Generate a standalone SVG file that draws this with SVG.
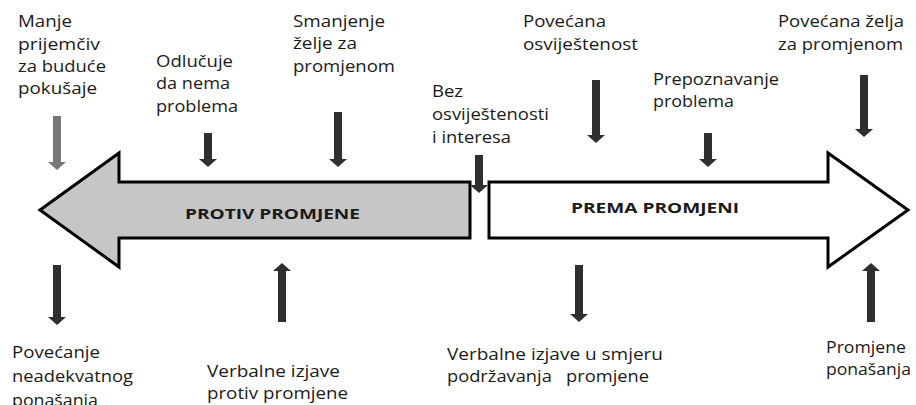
<svg xmlns="http://www.w3.org/2000/svg" width="916" height="405" viewBox="0 0 916 405">
<style>
.t{font-family:"Open Sans","Liberation Sans",sans-serif;font-size:15.5px;fill:#1a1a1a;}
.b{font-family:"Open Sans","Liberation Sans",sans-serif;font-size:14.5px;font-weight:bold;fill:#1a1a1a;}
.big{stroke:#000;stroke-width:3;stroke-linejoin:miter;}
.ar{fill:#2f2f2f;}
.arg{fill:#777;}
</style>
<rect width="916" height="405" fill="#fff"/>
<g id="protiv">
<polygon class="big" fill="#c6c6c6" points="40,210 119,153 119,182 470,182 470,238 119,238 119,267"/>
<text class="b" x="185" y="219" textLength="175" lengthAdjust="spacingAndGlyphs">PROTIV PROMJENE</text>
</g>
<g id="prema">
<polygon class="big" fill="#fff" points="489,182 828,182 828,153 908,210 828,267 828,238 489,238"/>
<text class="b" x="571" y="213" textLength="168" lengthAdjust="spacingAndGlyphs">PREMA PROMJENI</text>
</g>
<g id="manje">
<text class="t" x="18" y="27" textLength="54" lengthAdjust="spacingAndGlyphs">Manje</text>
<text class="t" x="18" y="50" textLength="82" lengthAdjust="spacingAndGlyphs">prijemčiv</text>
<text class="t" x="18" y="72" textLength="88" lengthAdjust="spacingAndGlyphs">za buduće</text>
<text class="t" x="18" y="94" textLength="79" lengthAdjust="spacingAndGlyphs">pokušaje</text>
</g>
<g id="odlucuje">
<text class="t" x="156" y="67" textLength="77" lengthAdjust="spacingAndGlyphs">Odlučuje</text>
<text class="t" x="156" y="89" textLength="74" lengthAdjust="spacingAndGlyphs">da nema</text>
<text class="t" x="156" y="112" textLength="82" lengthAdjust="spacingAndGlyphs">problema</text>
</g>
<g id="smanjenje">
<text class="t" x="293" y="27" textLength="92" lengthAdjust="spacingAndGlyphs">Smanjenje</text>
<text class="t" x="293" y="49" textLength="64" lengthAdjust="spacingAndGlyphs">želje za</text>
<text class="t" x="293" y="72" textLength="102" lengthAdjust="spacingAndGlyphs">promjenom</text>
</g>
<g id="bez">
<text class="t" x="432" y="97" textLength="31" lengthAdjust="spacingAndGlyphs">Bez</text>
<text class="t" x="432" y="120" textLength="117" lengthAdjust="spacingAndGlyphs">osviještenosti</text>
<text class="t" x="432" y="143" textLength="79" lengthAdjust="spacingAndGlyphs">i interesa</text>
</g>
<g id="osvijestenost">
<text class="t" x="523" y="27" textLength="83" lengthAdjust="spacingAndGlyphs">Povećana</text>
<text class="t" x="523" y="50" textLength="115" lengthAdjust="spacingAndGlyphs">osviještenost</text>
</g>
<g id="prepoznavanje">
<text class="t" x="653" y="85" textLength="126" lengthAdjust="spacingAndGlyphs">Prepoznavanje</text>
<text class="t" x="653" y="107" textLength="81" lengthAdjust="spacingAndGlyphs">problema</text>
</g>
<g id="zelja">
<text class="t" x="778" y="27" textLength="126" lengthAdjust="spacingAndGlyphs">Povećana želja</text>
<text class="t" x="778" y="50" textLength="125" lengthAdjust="spacingAndGlyphs">za promjenom</text>
</g>
<g id="neadekvatno">
<text class="t" x="12" y="358" textLength="88" lengthAdjust="spacingAndGlyphs">Povećanje</text>
<text class="t" x="12" y="382" textLength="121" lengthAdjust="spacingAndGlyphs">neadekvatnog</text>
<text class="t" x="12" y="406" textLength="86" lengthAdjust="spacingAndGlyphs">ponašanja</text>
</g>
<g id="verbalne-protiv">
<text class="t" x="207" y="377" textLength="133" lengthAdjust="spacingAndGlyphs">Verbalne izjave</text>
<text class="t" x="207" y="399" textLength="141" lengthAdjust="spacingAndGlyphs">protiv promjene</text>
</g>
<g id="verbalne-prema">
<text class="t" x="447" y="360" textLength="216" lengthAdjust="spacingAndGlyphs">Verbalne izjave u smjeru</text>
<text class="t" x="447" y="382" textLength="202" lengthAdjust="spacingAndGlyphs" xml:space="preserve">podržavanja   promjene</text>
</g>
<g id="ponasanje">
<text class="t" x="826" y="353" textLength="80" lengthAdjust="spacingAndGlyphs">Promjene</text>
<text class="t" x="826" y="375" textLength="85" lengthAdjust="spacingAndGlyphs">ponašanja</text>
</g>
<g id="connectors">
<path class="arg" d="M53 116 H61 V162 H66 L57 170 L48 162 H53 Z"/>
<path class="ar" d="M204 133 H212 V159 H217 L208 167 L199 159 H204 Z"/>
<path class="ar" d="M334 112 H342 V159 H347 L338 167 L329 159 H334 Z"/>
<path class="ar" d="M475 155 H483 V185 H488 L479 193 L470 185 H475 Z"/>
<path class="ar" d="M592 80 H600 V135 H605 L596 143 L587 135 H592 Z"/>
<path class="ar" d="M704 133 H712 V159 H717 L708 167 L699 159 H704 Z"/>
<path class="ar" d="M860 75 H868 V129 H873 L864 137 L855 129 H860 Z"/>
<path class="ar" d="M53 265 H61 V317 H66 L57 325 L48 317 H53 Z"/>
<path class="ar" d="M278 322 H286 V271 H291 L282 263 L273 271 H278 Z"/>
<path class="ar" d="M575 265 H583 V314 H588 L579 322 L570 314 H575 Z"/>
<path class="ar" d="M867 322 H875 V271 H880 L871 263 L862 271 H867 Z"/>
</g>
</svg>
